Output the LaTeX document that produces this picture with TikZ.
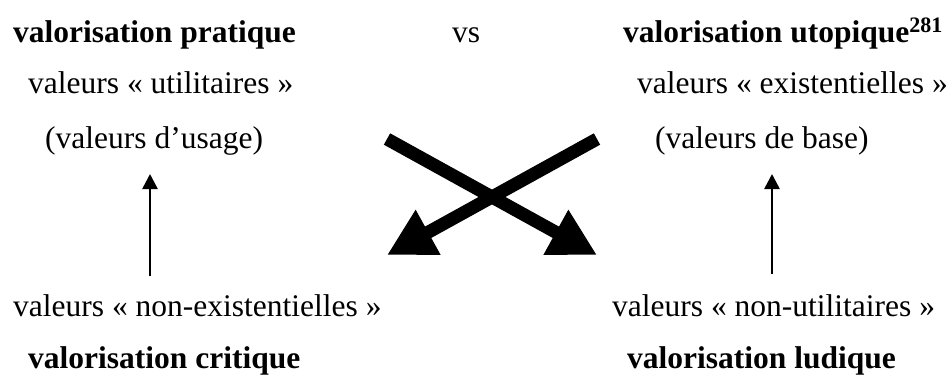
\documentclass[tikz,border=0pt]{standalone}
\usepackage{fontspec}
\setmainfont{Liberation Serif}
\usetikzlibrary{arrows.meta}
\begin{document}
\begin{tikzpicture}[x=1pt,y=-1pt,
  lbl/.style={anchor=base west,inner sep=0pt,font=\fontsize{31.5}{36}\selectfont},
  blbl/.style={lbl,font=\fontsize{31.5}{36}\selectfont\bfseries},
  bigarrow/.style={line width=13pt,-{Triangle[width=48pt,length=47pt]}},
  smallarrow/.style={line width=2.6pt,-{Triangle[width=15pt,length=15pt]}}]
\useasboundingbox (0,0) rectangle (950,378);
% left column
\node[blbl] (vp) at (13,42) {valorisation pratique};
\node[lbl] (vu) at (28,93) {valeurs «~utilitaires~»};
\node[lbl] (vus) at (45,148) {(valeurs d’usage)};
\node[lbl] (vne) at (13,316) {valeurs «~non-existentielles~»};
\node[blbl] (vc) at (28,368) {valorisation critique};
% middle
\node[lbl] (vs) at (452,42) {vs};
% right column
\node[blbl] (vut) at (623,42) {valorisation utopique\textsuperscript{281}};
\node[lbl] (ve) at (637,93) {valeurs «~existentielles~»};
\node[lbl] (vb) at (655,148) {(valeurs de base)};
\node[lbl] (vnu) at (612,316) {valeurs «~non-utilitaires~»};
\node[blbl] (vl) at (627,368) {valorisation ludique};
% small arrows
\coordinate (la0) at (150,276);
\coordinate (la1) at (150,174);
\coordinate (ra0) at (772,274);
\coordinate (ra1) at (772,174);
\draw[smallarrow] (la0) -- (la1);
\draw[smallarrow] (ra0) -- (ra1);
% cross arrows
\coordinate (c1s) at (387,139);
\coordinate (c1e) at (597,255);
\coordinate (c2s) at (597,139);
\coordinate (c2e) at (387,255);
\draw[bigarrow] (c1s) -- (c1e);
\draw[bigarrow] (c2s) -- (c2e);
\end{tikzpicture}
\end{document}
